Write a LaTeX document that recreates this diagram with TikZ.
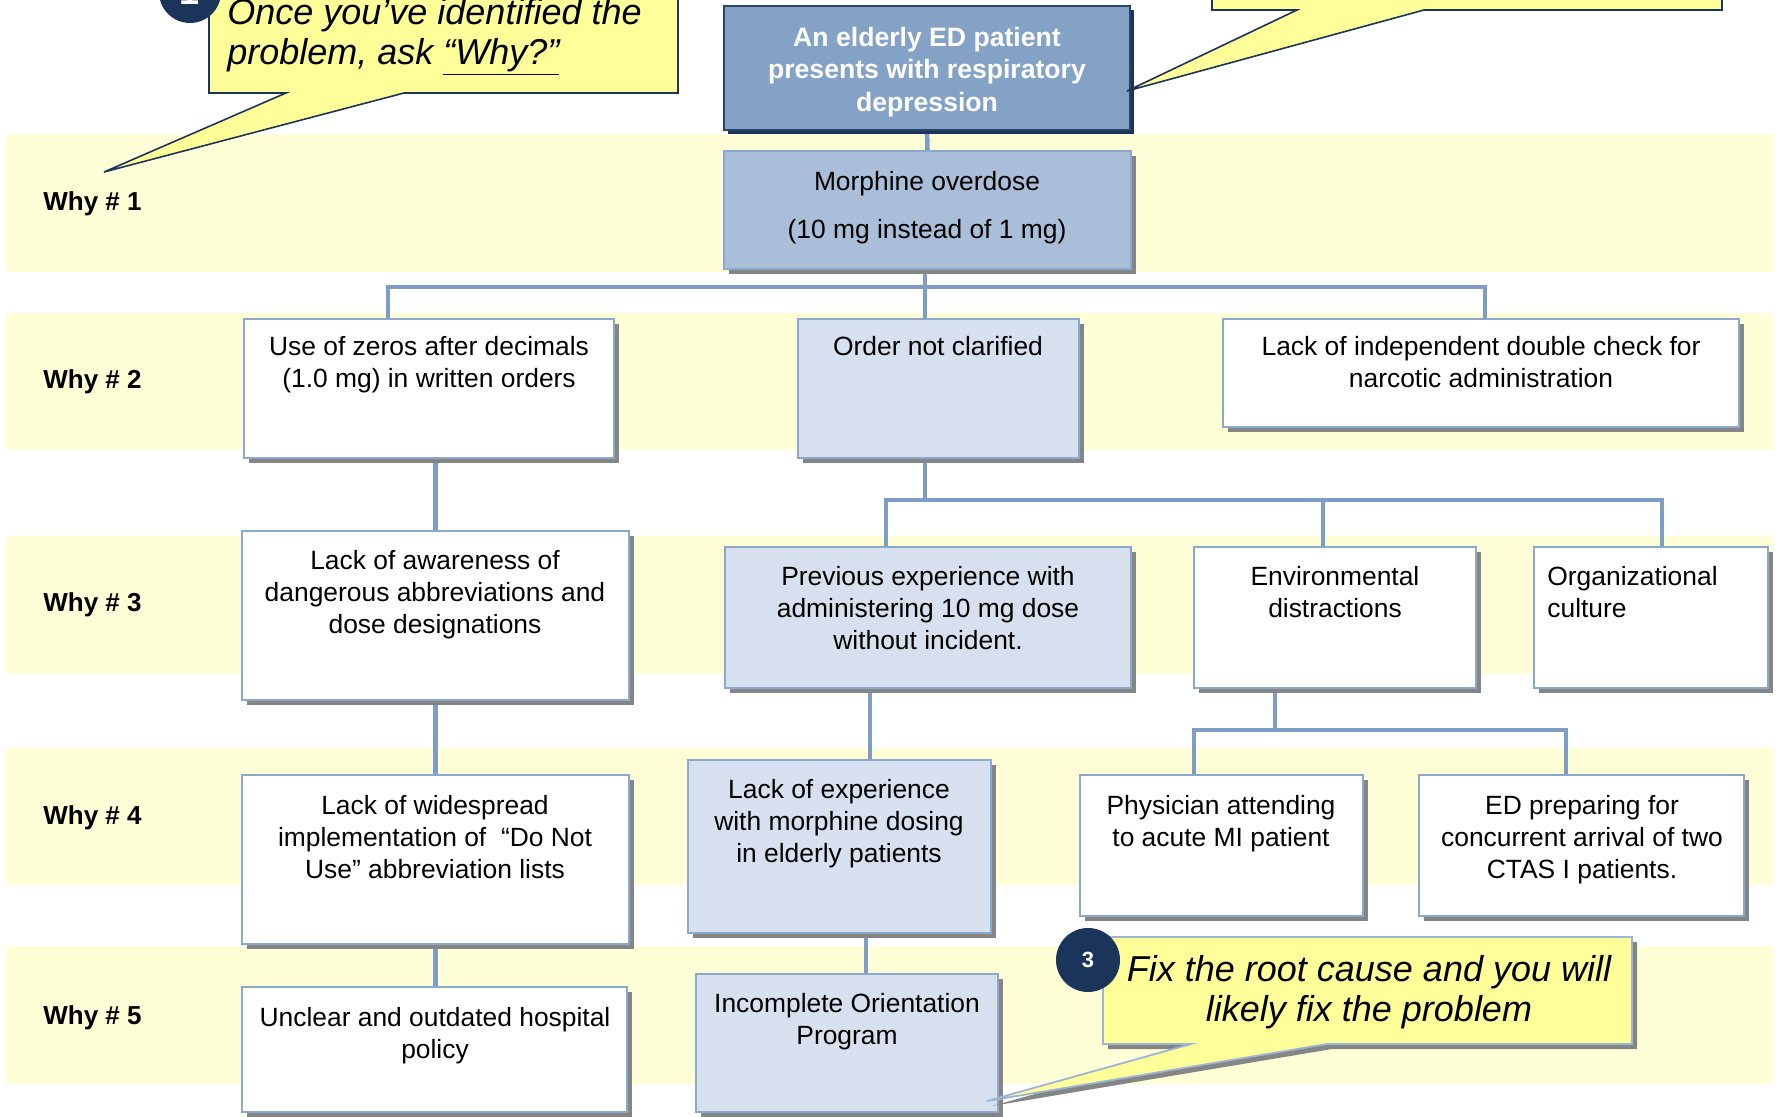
\documentclass[tikz,border=0pt]{standalone}
\usepackage{fontspec}
\setmainfont{Liberation Sans}
\usetikzlibrary{shadows,backgrounds,calc}
\newcommand\rcfBody{\fontsize{13.2}{16}\selectfont}
\newcommand\rcfTop{\fontsize{13.3}{16.25}\selectfont\bfseries}
\newcommand\rcfCall{\fontsize{18}{20}\selectfont\itshape}
\newcommand\rcfWhy{\fontsize{13}{15}\selectfont\bfseries}
\definecolor{bandc}{HTML}{FFFFD7}
\definecolor{topfill}{HTML}{84A2C6}
\definecolor{topdraw}{HTML}{2A4468}
\definecolor{navy}{HTML}{1B3459}
\definecolor{morphfill}{HTML}{A9BED8}
\definecolor{lightc}{HTML}{D6E0EE}
\definecolor{bordc}{HTML}{8CA8CB}
\definecolor{connc}{HTML}{7D9DC7}
\definecolor{shadc}{HTML}{858585}
\definecolor{callY}{HTML}{FFFF99}
\definecolor{callB}{HTML}{9DB5D5}
\tikzset{
  boxbase/.style={rectangle, anchor=north west, inner sep=0pt, outer sep=0pt,
    draw=bordc, line width=0.9pt,
    drop shadow={shadow xshift=2.5pt, shadow yshift=-2.5pt, fill=shadc, opacity=1}},
  wbox/.style={boxbase, fill=white},
  lbox/.style={boxbase, fill=lightc},
  mbox/.style={boxbase, fill=morphfill},
  pbox/.style={rectangle, anchor=north west, inner sep=0pt, outer sep=0pt,
    fill=topfill, draw=topdraw, line width=1pt,
    drop shadow={shadow xshift=2pt, shadow yshift=-2pt, fill=navy, opacity=1}},
  lbl/.style={anchor=north, inner sep=0pt, align=center, font=\rcfBody},
  why/.style={anchor=west, inner sep=0pt, font=\rcfWhy},
  conn/.style={draw=connc, line width=2.3pt},
  callA/.style={fill=callY, draw=navy, line width=0.8pt, line join=miter},
  callC/.style={fill=callY, draw=callB, line width=0.9pt, line join=miter,
    drop shadow={shadow xshift=2.5pt, shadow yshift=-2.5pt, fill=shadc, opacity=1}},
  ctext/.style={inner sep=0pt, font=\rcfCall},
  numc/.style={circle, fill=navy, inner sep=0pt, text=white, font=\fontsize{11}{13}\selectfont\bfseries}
}
\begin{document}
\begin{tikzpicture}[x=0.5pt,y=-0.5pt]
\useasboundingbox (0,0) rectangle (1779,1117);
\clip (0,0) rectangle (1779,1117);
% bands
\begin{scope}[on background layer]
  \fill[bandc] (6,134) rectangle (1773,272);
  \fill[bandc] (6,313) rectangle (1773,450);
  \fill[bandc] (6,536) rectangle (1773,674);
  \fill[bandc] (6,748) rectangle (1773,885);
  \fill[bandc] (6,946) rectangle (1773,1084);
\end{scope}
% why labels
\node[why] (w1) at (43,204) {Why \# 1};
\node[why] (w2) at (43,382) {Why \# 2};
\node[why] (w3) at (43,605) {Why \# 3};
\node[why] (w4) at (43,818) {Why \# 4};
\node[why] (w5) at (43,1018) {Why \# 5};
% boxes
\node[pbox, minimum width=203pt, minimum height=62pt] (prob) at (724,6) {};
\node[anchor=north, inner sep=0pt, align=center, font=\rcfTop, text=white] at (927,23)
  {\strut An elderly ED patient\\presents with respiratory\\depression};
\node[mbox, minimum width=203.5pt, minimum height=59pt] (morph) at (724,151) {};
\node[lbl] at (927,168) {\strut Morphine overdose\\[8pt](10 mg instead of 1 mg)};

\node[wbox, minimum width=185pt, minimum height=69.5pt] (boxA) at (244,319) {};
\node[lbl] at (429,333) {\strut Use of zeros after decimals\\(1.0 mg) in written orders};
\node[lbox, minimum width=140.5pt, minimum height=69.5pt] (boxB) at (798,319) {};
\node[lbl] at (938,333) {\strut Order not clarified};
\node[wbox, minimum width=258pt, minimum height=54pt] (boxC) at (1223,319) {};
\node[lbl] at (1481,333) {\strut Lack of independent double check for\\narcotic administration};

\node[wbox, minimum width=193.5pt, minimum height=84.5pt] (boxD) at (242,531) {};
\node[lbl] at (435,547) {\strut Lack of awareness of\\dangerous abbreviations and\\dose designations};
\node[lbox, minimum width=203pt, minimum height=70.5pt] (boxE) at (725,547) {};
\node[lbl] at (928,563) {\strut Previous experience with\\administering 10 mg dose\\without incident.};
\node[wbox, minimum width=141pt, minimum height=70.5pt] (boxF) at (1194,547) {};
\node[lbl] at (1335,563) {\strut Environmental\\distractions};
\node[wbox, minimum width=117pt, minimum height=70.5pt] (boxG) at (1534,547) {};
\node[lbl, anchor=north west, align=left] at (1547,563) {\strut Organizational\\culture};

\node[wbox, minimum width=193.5pt, minimum height=84.5pt] (boxH) at (242,775) {};
\node[lbl] at (435,792) {\strut Lack of widespread\\implementation of \ “Do Not\\Use” abbreviation lists};
\node[lbox, minimum width=151.5pt, minimum height=86.5pt] (boxI) at (688,760) {};
\node[lbl] at (839,776) {\strut Lack of experience\\with morphine dosing\\in elderly patients};
\node[wbox, minimum width=141.5pt, minimum height=70.5pt] (boxJ) at (1080,775) {};
\node[lbl] at (1221,792) {\strut Physician attending\\to acute MI patient};
\node[wbox, minimum width=162.5pt, minimum height=70.5pt] (boxK) at (1419,775) {};
\node[lbl] at (1582,792) {\strut ED preparing for\\concurrent arrival of two\\CTAS I patients.};

\node[wbox, minimum width=192.5pt, minimum height=62.5pt] (boxL) at (242,987) {};
\node[lbl] at (435,1004) {\strut Unclear and outdated hospital\\policy};
\node[lbox, minimum width=151pt, minimum height=69pt] (boxM) at (696,974) {};
\node[lbl] at (847,990) {\strut Incomplete Orientation\\Program};

% helper coordinates
\coordinate (bus1) at (0,287);
\coordinate (bus2) at (0,500);
\coordinate (bus3) at (0,730);
\coordinate (dA) at (388,0);
\coordinate (dB) at (925,0);
\coordinate (dC) at (1485,0);
\coordinate (dE) at (886,0);
\coordinate (dF) at (1323,0);
\coordinate (dG) at (1662,0);
\coordinate (dEs) at (870,0);
\coordinate (dFs) at (1275,0);
\coordinate (dJ) at (1194,0);
\coordinate (dK) at (1566,0);
\coordinate (dM) at (866,0);
% connectors
\begin{scope}[on background layer]
  \draw[conn] (prob.south) -- (morph.north);
  \draw[conn] (morph.south -| dB) -- (boxB.north -| dB);
  \draw[conn] (boxA.north -| dA) -- (bus1 -| dA) -- (bus1 -| dC) -- (boxC.north -| dC);
  \draw[conn] (boxA.south -| boxD.north) -- (boxD.north);
  \draw[conn] (boxB.south -| dB) -- (bus2 -| dB);
  \draw[conn] (boxE.north -| dE) -- (bus2 -| dE) -- (bus2 -| dG) -- (boxG.north -| dG);
  \draw[conn] (bus2 -| dF) -- (boxF.north -| dF);
  \draw[conn] (boxD.south) -- (boxH.north -| boxD.south);
  \draw[conn] (boxE.south -| dEs) -- (boxI.north -| dEs);
  \draw[conn] (boxF.south -| dFs) -- (bus3 -| dFs);
  \draw[conn] (boxJ.north -| dJ) -- (bus3 -| dJ) -- (bus3 -| dK) -- (boxK.north -| dK);
  \draw[conn] (boxH.south) -- (boxL.north -| boxH.south);
  \draw[conn] (boxI.south -| dM) -- (boxM.north -| dM);
\end{scope}
% callouts
\filldraw[callA] (209,-20) -- (678,-20) -- (678,93) -- (404,93) -- (104,172) -- (286,93) -- (209,93) -- cycle;
\node[numc, minimum size=31pt, font=\fontsize{18}{20}\selectfont\bfseries] (n1) at (190,-8) {1};
\node[ctext, anchor=north west, align=left] (t1) at (227,-4) {\strut Once you’ve identified the\\problem, ask \underline{“Why?”}};

\filldraw[callA] (1212,-20) -- (1722,-20) -- (1722,10) -- (1424,10) -- (1127,91) -- (1297,10) -- (1212,10) -- cycle;

\filldraw[callC] (1103,937) -- (1632,937) -- (1632,1044) -- (1327,1044) -- (987,1101) -- (1191,1044) -- (1103,1044) -- cycle;
\node[numc, minimum size=32pt] (n3) at (1088,960) {3};
\node[ctext, anchor=north, align=center] (t3) at (1369,953) {\strut Fix the root cause and you will\\likely fix the problem};
\end{tikzpicture}
\end{document}
